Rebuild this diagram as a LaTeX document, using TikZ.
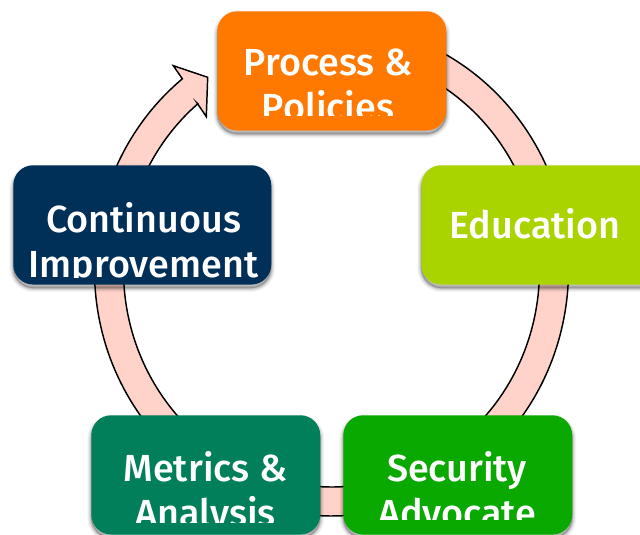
\documentclass[tikz,border=0pt]{standalone}
\usepackage{fontspec}
\setmainfont{Fira Sans Medium}
\usetikzlibrary{shadows,calc}
\definecolor{ringfill}{HTML}{FFD3C9}
\definecolor{cOrange}{HTML}{FF7900}
\definecolor{cNavy}{HTML}{003057}
\definecolor{cLime}{HTML}{A9D400}
\definecolor{cTeal}{HTML}{007F5A}
\definecolor{cGreen}{HTML}{0AA900}
\tikzset{
  softshadow/.style={
    general shadow={shadow xshift=0pt,shadow yshift=-2.6pt,draw=black,line width=6pt,opacity=.04},
    general shadow={shadow xshift=0pt,shadow yshift=-2.6pt,draw=black,line width=4.4pt,opacity=.06},
    general shadow={shadow xshift=0pt,shadow yshift=-2.6pt,draw=black,line width=2.8pt,opacity=.09},
    general shadow={shadow xshift=0pt,shadow yshift=-2.6pt,draw=black,line width=1.2pt,opacity=.12},
    general shadow={shadow xshift=0pt,shadow yshift=-2.6pt,fill=black,opacity=.2}},
  stagebox/.style={softshadow,rounded corners=15pt,minimum width=171.75pt,minimum height=89.5pt,inner sep=0pt,anchor=north west},
  stagetext/.style={text=white,align=center,anchor=base,inner sep=0pt,font=\fontsize{28.3}{33.75}\selectfont}
}
\begin{document}
\begin{tikzpicture}[x=0.75pt,y=0.75pt]
\useasboundingbox (0,0) rectangle (640,535);
\coordinate (ringc) at (331.5,265);
\coordinate (outerstart) at ($(ringc)+(129:237 and 246)$);
\coordinate (headbarbo) at (173.3,469.3);
\coordinate (headtipo) at (207.7,457.7);
\coordinate (headtipi) at (206.3,418.3);
\coordinate (headbarbi) at (197.3,431.7);
\draw[fill=ringfill,draw=black,line width=1.1pt,line join=miter]
  (outerstart) arc[start angle=129,end angle=445,x radius=237,y radius=246]
  -- ($(ringc)+(85:208 and 217)$)
  arc[start angle=445,end angle=130,x radius=208,y radius=217]
  -- (headbarbi) -- (headtipi) -- (headtipo) -- (headbarbo) -- cycle;
% boxes
\node[stagebox,fill=cOrange] (process) at (217,524) {};
\node[stagebox,fill=cLime,minimum width=180pt] (education) at (421,370) {};
\node[stagebox,fill=cNavy,minimum width=193.5pt] (continuous) at (13,370) {};
\node[stagebox,fill=cTeal] (metrics) at (91,120) {};
\node[stagebox,fill=cGreen] (security) at (343,120) {};
% texts
\begin{scope}
\clip (217,419.5) rectangle (446,524);
\node[stagetext] (processt) at (328,414) {Process \&\\Policies};
\end{scope}
\node[stagetext] (educationt) at (535,296) {Education};
\begin{scope}
\clip (13,257.7) rectangle (271,370);
\node[stagetext] (continuoust) at (143.5,257.3) {Continuous\\Improvement};
\end{scope}
\begin{scope}
\clip (91,12.3) rectangle (320,120);
\node[stagetext] (metricst) at (205.5,8.8) {Metrics \&\\Analysis};
\end{scope}
\begin{scope}
\clip (343,15.7) rectangle (572,120);
\node[stagetext] (securityt) at (457,8.5) {Security\\Advocate};
\end{scope}
\end{tikzpicture}
\end{document}
